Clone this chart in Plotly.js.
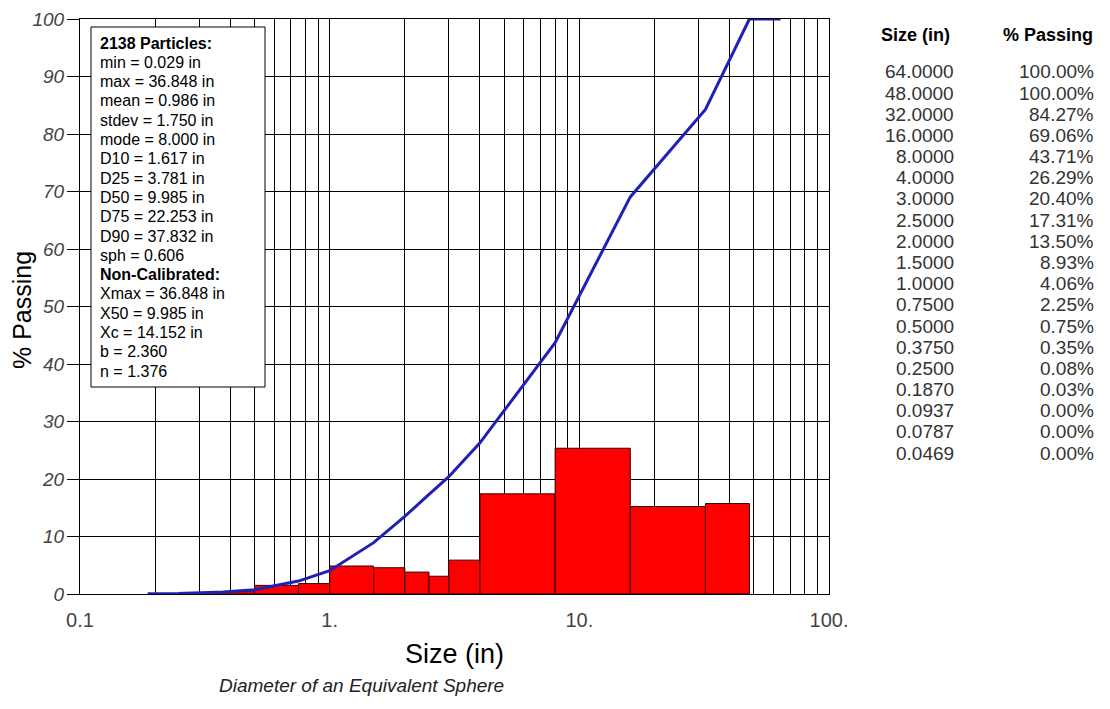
<!DOCTYPE html>
<html><head><meta charset="utf-8">
<script src="https://cdn.plot.ly/plotly-3.0.1.min.js"></script>
<style>html,body{margin:0;padding:0;background:#fff}#chart{width:1110px;height:709px}</style>
</head><body><div id="chart"></div>
<script>
// ---- data ----
const sieveSizes = [64, 48, 32, 16, 8, 4, 3, 2.5, 2, 1.5, 1, 0.75, 0.5, 0.375, 0.25, 0.187, 0.0937, 0.0787, 0.0469];
const sizeLabels = ["64.0000","48.0000","32.0000","16.0000","8.0000","4.0000","3.0000","2.5000","2.0000","1.5000","1.0000","0.7500","0.5000","0.3750","0.2500","0.1870","0.0937","0.0787","0.0469"];
const passingPct = [100, 100, 84.27, 69.06, 43.71, 26.29, 20.40, 17.31, 13.50, 8.93, 4.06, 2.25, 0.75, 0.35, 0.08, 0.03, 0, 0, 0];
const passingLabels = ["100.00%","100.00%","84.27%","69.06%","43.71%","26.29%","20.40%","17.31%","13.50%","8.93%","4.06%","2.25%","0.75%","0.35%","0.08%","0.03%","0.00%","0.00%","0.00%"];

const binLower = [0.187, 0.25, 0.375, 0.5, 0.75, 1, 1.5, 2, 2.5, 3, 4, 8, 16, 32];
const binUpper = [0.25, 0.375, 0.5, 0.75, 1, 1.5, 2, 2.5, 3, 4, 8, 16, 32, 48];
const binPercent = [0.05, 0.27, 0.40, 1.50, 1.81, 4.87, 4.57, 3.81, 3.09, 5.89, 17.42, 25.35, 15.21, 15.73];

const gridSizes = [0.1,0.2,0.3,0.4,0.5,0.6,0.7,0.8,0.9,1,2,3,4,5,6,7,8,9,10,20,30,40,50,60,70,80,90,100];
const majorTicks = [0.1, 1, 10, 100];
const majorTickLabels = ["0.1", "1.", "10.", "100."];
const yTicks = [0,10,20,30,40,50,60,70,80,90,100];

const statsLines = [
  "<b>2138 Particles:</b>",
  "min = 0.029 in",
  "max = 36.848 in",
  "mean = 0.986 in",
  "stdev = 1.750 in",
  "mode = 8.000 in",
  "D10 = 1.617 in",
  "D25 = 3.781 in",
  "D50 = 9.985 in",
  "D75 = 22.253 in",
  "D90 = 37.832 in",
  "sph = 0.606",
  "<b>Non-Calibrated:</b>",
  "Xmax = 36.848 in",
  "X50 = 9.985 in",
  "Xc = 14.152 in",
  "b = 2.360",
  "n = 1.376"
];

// ---- layout helpers (pixel -> paper) ----
const PL = 80, PR = 829, PT = 19, PB = 594;
const px = v => (v - PL) / (PR - PL);
const py = v => (PB - v) / (PB - PT);
const FONT = "Liberation Sans, Arial, sans-serif";

const traces = [];
// histogram bars
for (let i = 0; i < binLower.length; i++) {
  if (binPercent[i] <= 0) continue;
  traces.push({
    type: "scatter", mode: "lines", fill: "toself",
    x: [binLower[i], binLower[i], binUpper[i], binUpper[i], binLower[i]],
    y: [0, binPercent[i], binPercent[i], 0, 0],
    fillcolor: "#ff0000", line: {color: "#3a0000", width: 1},
    hoverinfo: "skip", showlegend: false
  });
}
// cumulative curve
const curveX = [], curveY = [];
for (let i = sieveSizes.length - 1; i >= 0; i--) {
  if (sieveSizes[i] >= 0.1) { curveX.push(sieveSizes[i]); curveY.push(passingPct[i]); }
}
traces.push({
  type: "scatter", mode: "lines", x: curveX, y: curveY,
  line: {color: "#2020b4", width: 3}, showlegend: false
});

const tickText = gridSizes.map(v => {
  const k = majorTicks.indexOf(v);
  return k >= 0 ? majorTickLabels[k] : "";
});

const annotations = [];
// stats box lines
statsLines.forEach((t, i) => {
  annotations.push({
    xref: "paper", yref: "paper", x: px(98), y: py(43 + i * 19.3),
    xanchor: "left", yanchor: "middle", showarrow: false, text: t,
    font: {family: FONT, size: 16, color: "#000"}
  });
});
// table header
annotations.push({xref:"paper", yref:"paper", x: px(915), y: py(35), xanchor:"center", yanchor:"middle", showarrow:false,
  text:"<b>Size (in)</b>", font:{family:FONT, size:18, color:"#000"}});
annotations.push({xref:"paper", yref:"paper", x: px(1048), y: py(35), xanchor:"center", yanchor:"middle", showarrow:false,
  text:"<b>% Passing</b>", font:{family:FONT, size:18, color:"#000"}});
// table rows
const rowGap = (453 - 72) / (sizeLabels.length - 1);
sizeLabels.forEach((t, i) => {
  annotations.push({xref:"paper", yref:"paper", x: px(956), y: py(72 + i * rowGap), xanchor:"right", yanchor:"middle",
    showarrow:false, text:t, font:{family:FONT, size:19, color:"#333"}});
  annotations.push({xref:"paper", yref:"paper", x: px(1096), y: py(72 + i * rowGap), xanchor:"right", yanchor:"middle",
    showarrow:false, text:passingLabels[i], font:{family:FONT, size:19, color:"#333"}});
});
// y-axis title
annotations.push({xref:"paper", yref:"paper", x: px(22), y: py(310), xanchor:"center", yanchor:"middle", showarrow:false,
  textangle: -90, text:"% Passing", font:{family:FONT, size:25, color:"#000"}});
// subtitle
annotations.push({xref:"paper", yref:"paper", x: px(361), y: py(685), xanchor:"center", yanchor:"middle", showarrow:false,
  text:"Diameter of an Equivalent Sphere", font:{family:FONT, size:19, color:"#222", style:"italic"}});

const layout = {
  width: 1110, height: 709,
  margin: {l: PL, r: 1110 - PR, t: PT, b: 709 - PB},
  paper_bgcolor: "#fff", plot_bgcolor: "#fff",
  font: {family: FONT, color: "#333"},
  showlegend: false,
  xaxis: {
    type: "log", range: [-1, 2], tickmode: "array", tickvals: gridSizes, ticktext: tickText,
    showgrid: true, gridcolor: "#000", gridwidth: 1, zeroline: false,
    showline: true, linecolor: "#000", linewidth: 1, mirror: true,
    ticks: "", tickfont: {family: FONT, size: 20, color: "#444"}, ticklabelstandoff: 8,
    title: {text: "Size (in)", font: {family: FONT, size: 27, color: "#000"}, standoff: 14},
    automargin: false, fixedrange: true
  },
  yaxis: {
    range: [0, 100], tickmode: "array", tickvals: yTicks,
    showgrid: true, gridcolor: "#000", gridwidth: 1, zeroline: false,
    showline: true, linecolor: "#000", linewidth: 1, mirror: true,
    ticks: "outside", ticklen: 12, tickcolor: "#000", ticklabelstandoff: -1,
    tickfont: {family: FONT, size: 19, color: "#444", style: "italic"},
    automargin: false, fixedrange: true
  },
  shapes: [{
    type: "rect", xref: "paper", yref: "paper", layer: "above",
    x0: px(91), x1: px(265), y0: py(27), y1: py(387),
    fillcolor: "#fff", line: {color: "#000", width: 1}
  }],
  annotations: annotations
};

Plotly.newPlot("chart", traces, layout, {staticPlot: true, displayModeBar: false});
</script>
</body></html>
